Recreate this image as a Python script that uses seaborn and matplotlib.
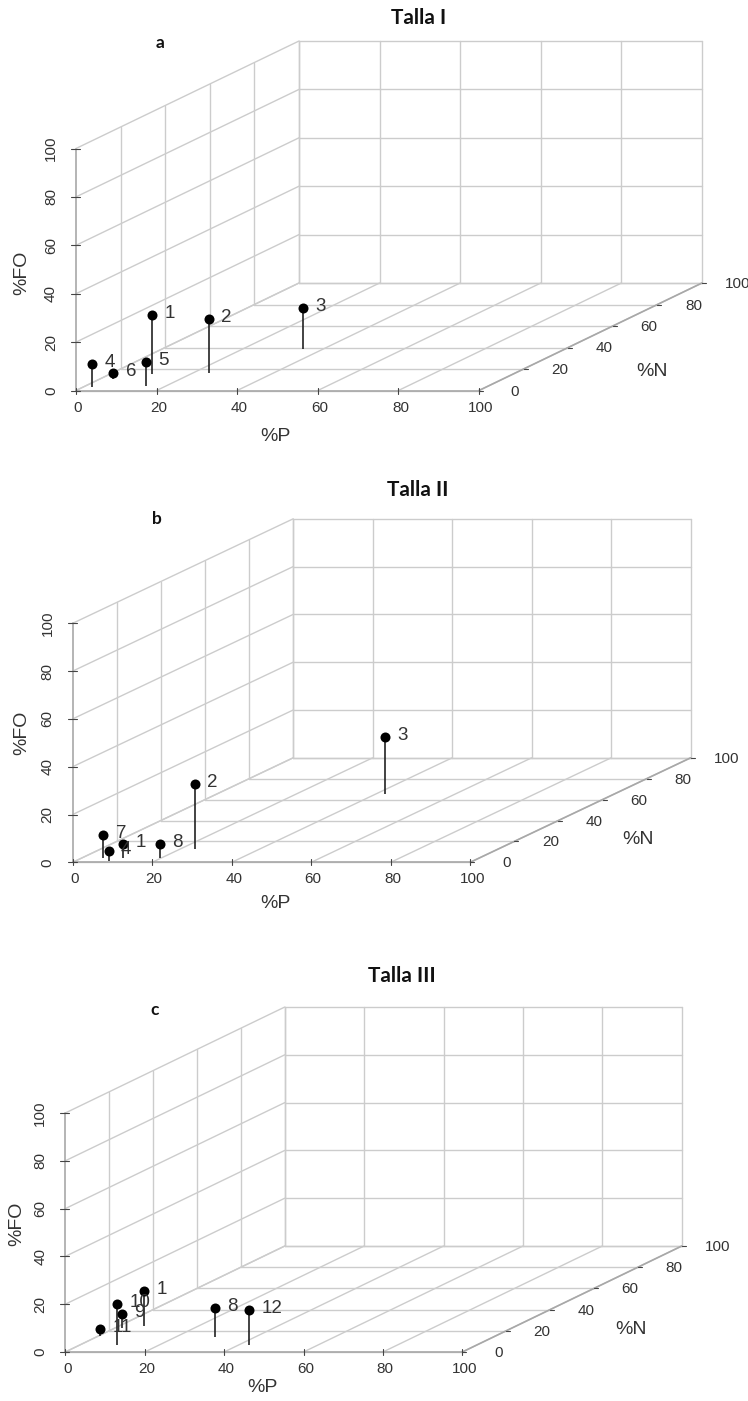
import matplotlib
matplotlib.use("Agg")
import matplotlib.pyplot as plt
import pandas as pd
import seaborn as sns

W, H = 748, 1401

ticks = [0, 20, 40, 60, 80, 100]

# talla I
labels_a = ["1", "2", "3", "4", "5", "6"]
p_a = [10.5, 23.8, 35.1, 2.3, 15.0, 3.4]
n_a = [15.3, 16.6, 38.3, 3.0, 4.2, 10.5]
fo_a = [24.5, 22.0, 17.0, 9.5, 10.0, 2.7]

# talla II
labels_b = ["1", "2", "3", "4", "7", "8"]
p_b = [10.5, 23.8, 42.3, 8.2, 5.6, 19.4]
n_b = [3.8, 12.4, 65.4, 1.5, 3.8, 4.4]
fo_b = [5.9, 27.4, 23.8, 4.2, 9.7, 5.9]

# talla III
labels_c = ["1", "8", "9", "10", "11", "12"]
p_c = [6.4, 29.7, 1.9, 9.3, 0.2, 42.7]
n_c = [24.5, 14.4, 22.4, 6.6, 15.4, 6.6]
fo_c = [14.8, 11.9, 6.0, 17.2, 2.9, 14.8]

sns.set_style("white")
plt.rcParams['font.family'] = ['Liberation Sans', 'DejaVu Sans']

GRID = "#cccccc"
AXIS = "#a8a8a8"
TICK = "#444444"
TEXT = "#333333"

fig = plt.figure(figsize=(W / 100, H / 100), dpi=100)


def put(x, y, s, **kw):
    # text placed by pixel position in the figure
    fig.text(x / W, 1 - y / H, s, ha="center", va="center", **kw)


def panel(labels, p, n, fo, band, origin, xs, zs, kx, ky, title, letter, lab_p, lab_n, lab_fo):
    top, bottom = band
    ox, oy = origin
    ax = fig.add_axes([0, 1 - bottom / H, 1, (bottom - top) / H])
    ax.set_xlim(-ox / xs, (W - ox) / xs)
    ax.set_ylim((oy - bottom) / zs, (oy - top) / zs)
    ax.axis("off")

    # oblique projection, same idea as scatterplot3d
    sx = lambda a, b: a + b * kx / xs
    sy = lambda b, c: c + b * ky / zs

    # back wall, left wall and floor
    for t in ticks:
        ax.plot([sx(t, 100)] * 2, [sy(100, 0), sy(100, 100)], color=GRID, lw=1, zorder=1)
        ax.plot([sx(0, 100), sx(100, 100)], [sy(100, t)] * 2, color=GRID, lw=1, zorder=1)
        ax.plot([sx(0, 0), sx(0, 100)], [sy(0, t), sy(100, t)], color=GRID, lw=1, zorder=1)
        if t > 0:
            ax.plot([sx(0, t)] * 2, [sy(t, 0), sy(t, 100)], color=GRID, lw=1, zorder=1)
        ax.plot([sx(t, 0), sx(t, 100)], [sy(0, 0), sy(100, 0)], color=GRID, lw=1, zorder=1)
        ax.plot([sx(0, t), sx(100, t)], [sy(t, 0)] * 2, color=GRID, lw=1, zorder=1)

    # axes lines
    ax.plot([0, 0], [0, 100], color=AXIS, lw=1.2, zorder=2)
    ax.plot([0, 100], [0, 0], color=AXIS, lw=1.2, zorder=2)
    ax.plot([sx(100, 0), sx(100, 100)], [0, sy(100, 0)], color=AXIS, lw=1.2, zorder=2)

    for t in ticks:
        ax.plot([t, t], [-3 / zs, 3 / zs], color=TICK, lw=0.8, zorder=3)
        ax.plot([-5 / xs, 4 / xs], [t, t], color=TICK, lw=0.8, zorder=3)
        ax.plot([sx(100, t), sx(100, t) + 4 / xs], [sy(t, 0)] * 2, color=TICK, lw=0.8, zorder=3)
        ax.text(t + 2 / xs, -17 / zs, str(t), ha="center", va="center", fontsize=11, color=TEXT)
        ax.text(-25 / xs, t, str(t), ha="center", va="center", rotation=90, fontsize=11, color=TEXT)
        ax.text(sx(100, t) + 36 / xs, sy(t, 0) - 1 / zs, str(t), ha="center", va="center",
                fontsize=11, color=TEXT)

    df = pd.DataFrame({"p": p, "n": n, "fo": fo, "label": labels})
    df["sx"] = sx(df["p"], df["n"])
    df["sy"] = sy(df["n"], df["fo"])
    df["base"] = sy(df["n"], 0)

    ax.vlines(df["sx"], df["base"], df["sy"], color="#222222", lw=1.2, zorder=4)
    sns.scatterplot(data=df, x="sx", y="sy", color="black", s=52, linewidth=0, legend=False,
                    zorder=5, ax=ax)
    for _, row in df.iterrows():
        ax.annotate(row["label"], (row["sx"], row["sy"]), xytext=(12.5, 1.5),
                    textcoords="offset pixels", ha="left", va="center", fontsize=13.5,
                    color=TEXT, zorder=6)
    ax.set_xlabel("")
    ax.set_ylabel("")

    put(*title[:2], title[2], family="Lato", fontweight="bold", fontsize=15, color="#111111")
    put(*letter[:2], letter[2], family="Lato", fontweight="bold", fontsize=12.5, color="#111111")
    put(*lab_p, "%P", fontsize=14, color=TEXT)
    put(*lab_n, "%N", fontsize=14, color=TEXT)
    put(*lab_fo, "%FO", fontsize=14, color=TEXT, rotation=90)


panel(labels_a, p_a, n_a, fo_a, (0, 450), (76, 390.5), 4.03, 2.42, 2.23, 1.075,
      (419, 18, "Talla I"), (160, 43, "a"), (275, 436), (652, 372), (22, 273))
panel(labels_b, p_b, n_b, fo_b, (470, 925), (72.7, 862.3), 3.975, 2.39, 2.205, 1.045,
      (418, 490, "Talla II"), (157, 519, "b"), (275, 904), (638, 840), (22, 733))
panel(labels_c, p_c, n_c, fo_c, (960, 1401), (65.3, 1352), 3.97, 2.39, 2.195, 1.06,
      (402, 976, "Talla III"), (155, 1010, "c"), (262, 1387), (631, 1329), (17, 1224))

plt.savefig("out.png", dpi=100)
